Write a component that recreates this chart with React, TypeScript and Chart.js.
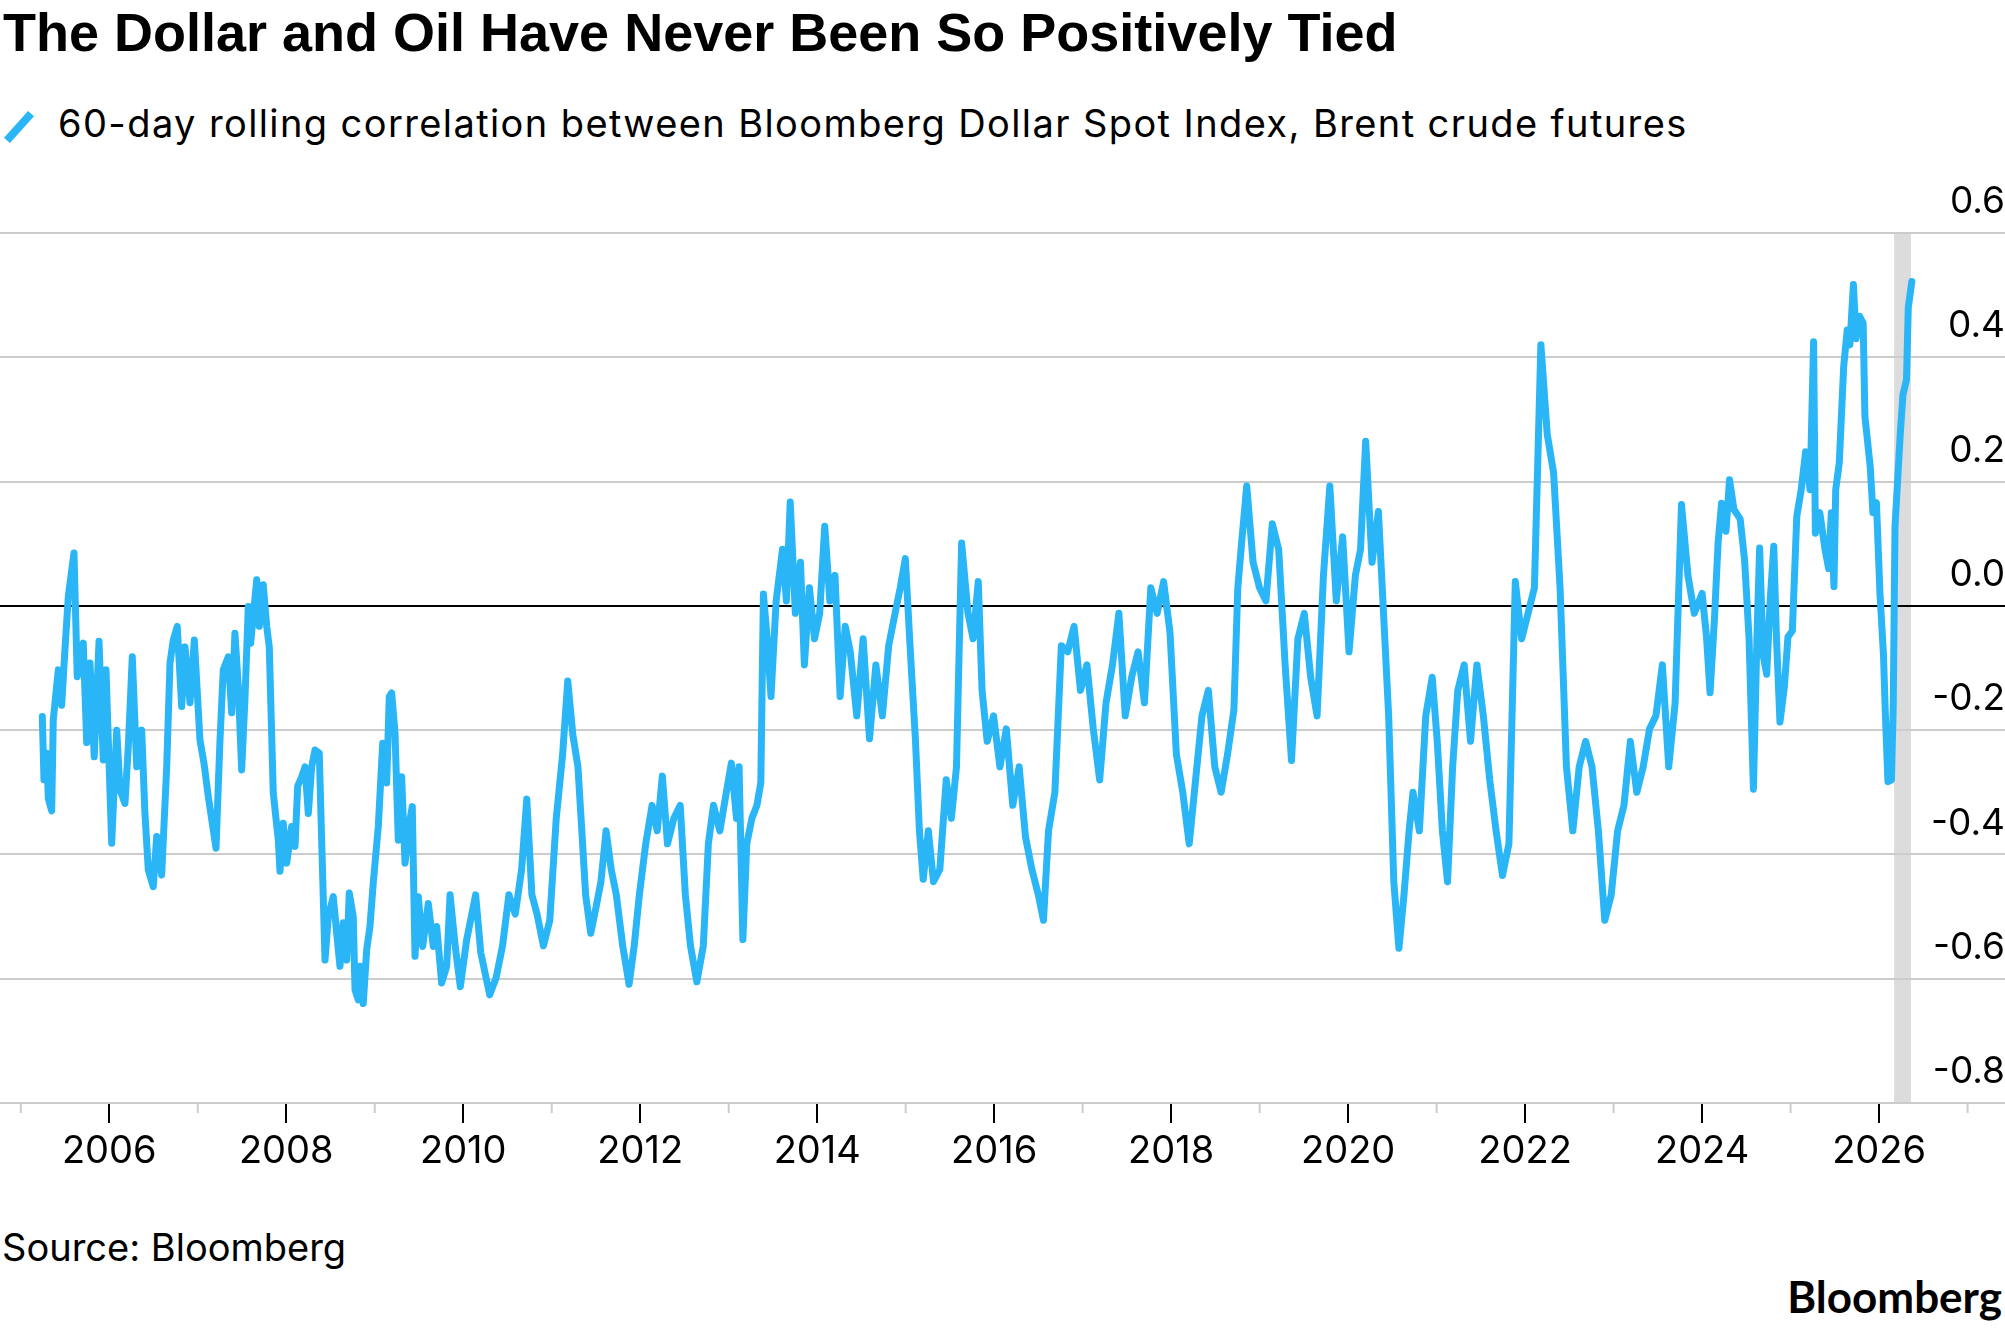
import React, { useEffect, useRef } from 'react';
import { Chart, registerables } from 'chart.js';

Chart.register(...registerables);

// Decimal years of each observation
const years: number[] = [
  2005.243, 2005.262, 2005.293, 2005.311, 2005.349, 2005.367, 2005.424, 2005.462, 2005.499, 2005.537,
  2005.601, 2005.638, 2005.706, 2005.745, 2005.782, 2005.830, 2005.884, 2005.932, 2005.963, 2006.027,
  2006.084, 2006.121, 2006.177, 2006.215, 2006.260, 2006.310, 2006.366, 2006.403, 2006.441, 2006.497,
  2006.536, 2006.592, 2006.649, 2006.686, 2006.723, 2006.768, 2006.818, 2006.855, 2006.912, 2006.961,
  2007.025, 2007.070, 2007.119, 2007.206, 2007.251, 2007.288, 2007.345, 2007.383, 2007.420, 2007.458,
  2007.496, 2007.533, 2007.571, 2007.598, 2007.666, 2007.695, 2007.740, 2007.779, 2007.808, 2007.853,
  2007.910, 2007.929, 2007.966, 2008.005, 2008.061, 2008.099, 2008.129, 2008.174, 2008.212, 2008.249,
  2008.287, 2008.325, 2008.373, 2008.400, 2008.438, 2008.475, 2008.531, 2008.570, 2008.607, 2008.644,
  2008.683, 2008.712, 2008.757, 2008.777, 2008.814, 2008.833, 2008.870, 2008.909, 2008.946, 2008.983,
  2009.040, 2009.090, 2009.135, 2009.164, 2009.191, 2009.229, 2009.266, 2009.304, 2009.342, 2009.398,
  2009.424, 2009.455, 2009.492, 2009.542, 2009.605, 2009.661, 2009.700, 2009.756, 2009.813,
  2009.851, 2009.909, 2009.967, 2010.039, 2010.140, 2010.198, 2010.299, 2010.371, 2010.444, 2010.516,
  2010.588, 2010.660, 2010.718, 2010.776, 2010.834, 2010.906, 2010.978, 2011.051, 2011.123, 2011.181,
  2011.239, 2011.296, 2011.340, 2011.383, 2011.441, 2011.499, 2011.556, 2011.614, 2011.672, 2011.730,
  2011.802, 2011.874, 2011.932, 2011.990, 2012.062, 2012.134, 2012.192, 2012.250, 2012.308, 2012.380,
  2012.452, 2012.510, 2012.568, 2012.640, 2012.713, 2012.770, 2012.828, 2012.900, 2012.973, 2013.030,
  2013.088, 2013.117, 2013.160, 2013.204, 2013.262, 2013.319, 2013.363, 2013.392, 2013.435, 2013.478,
  2013.536, 2013.608, 2013.652, 2013.695, 2013.753, 2013.811, 2013.855, 2013.912, 2013.970, 2014.028,
  2014.085, 2014.143, 2014.201, 2014.259, 2014.317, 2014.374, 2014.447, 2014.519, 2014.591, 2014.663,
  2014.736, 2014.808, 2014.880, 2014.938, 2014.996, 2015.053, 2015.111, 2015.155, 2015.198, 2015.256,
  2015.314, 2015.386, 2015.458, 2015.516, 2015.574, 2015.632, 2015.704, 2015.762, 2015.820, 2015.863,
  2015.921, 2015.993, 2016.065, 2016.137, 2016.210, 2016.282, 2016.354, 2016.426, 2016.499, 2016.557,
  2016.614, 2016.686, 2016.759, 2016.831, 2016.903, 2016.975, 2017.048, 2017.120, 2017.192, 2017.264,
  2017.337, 2017.409, 2017.481, 2017.553, 2017.626, 2017.698, 2017.770, 2017.842, 2017.915, 2017.987,
  2018.059, 2018.131, 2018.204, 2018.276, 2018.348, 2018.420, 2018.493, 2018.565, 2018.637, 2018.709,
  2018.753, 2018.796, 2018.854, 2018.926, 2018.999, 2019.071, 2019.143, 2019.215, 2019.288, 2019.360,
  2019.432, 2019.504, 2019.577, 2019.649, 2019.721, 2019.793, 2019.866, 2019.938, 2020.010, 2020.082,
  2020.140, 2020.198, 2020.270, 2020.342, 2020.400, 2020.458, 2020.516, 2020.574, 2020.631, 2020.689,
  2020.733, 2020.805, 2020.877, 2020.950, 2021.007, 2021.065, 2021.123, 2021.181, 2021.239, 2021.311,
  2021.383, 2021.455, 2021.528, 2021.600, 2021.672, 2021.744, 2021.817, 2021.889, 2021.961, 2022.033,
  2022.105, 2022.178, 2022.250, 2022.322, 2022.395, 2022.467, 2022.539, 2022.611, 2022.684, 2022.756,
  2022.828, 2022.900, 2022.973, 2023.045, 2023.117, 2023.189, 2023.262, 2023.334, 2023.406, 2023.478,
  2023.551, 2023.623, 2023.695, 2023.767, 2023.840, 2023.912,
  2024.00, 2024.05, 2024.09, 2024.14, 2024.18, 2024.22, 2024.27, 2024.31, 2024.36, 2024.43,
  2024.48, 2024.53, 2024.58, 2024.62, 2024.65, 2024.69, 2024.73, 2024.77, 2024.81, 2024.84,
  2024.88, 2024.93, 2024.97, 2025.02, 2025.07, 2025.12, 2025.17, 2025.22, 2025.26, 2025.28,
  2025.33, 2025.39, 2025.43, 2025.46, 2025.49, 2025.51, 2025.55, 2025.60, 2025.64, 2025.67,
  2025.71, 2025.74, 2025.78, 2025.82, 2025.84, 2025.90, 2025.93, 2025.97, 2026.01, 2026.05,
  2026.07, 2026.10, 2026.14, 2026.16, 2026.18, 2026.24, 2026.27, 2026.31, 2026.33, 2026.37,
];

// 60-day rolling correlation, Bloomberg Dollar Spot Index vs Brent crude futures
const correlation: number[] = [
  -0.178, -0.28, -0.237, -0.31, -0.33, -0.183, -0.103, -0.16, -0.07, 0.015,
  0.085, -0.114, -0.06, -0.22, -0.092, -0.243, -0.057, -0.248, -0.103, -0.382,
  -0.2, -0.296, -0.318, -0.226, -0.082, -0.259, -0.2, -0.334, -0.425, -0.452,
  -0.371, -0.433, -0.259, -0.092, -0.055, -0.033, -0.162, -0.066, -0.156, -0.055,
  -0.216, -0.253, -0.307, -0.39, -0.216, -0.103, -0.082, -0.172, -0.044, -0.13,
  -0.264, -0.151, -0.001, -0.06, 0.042, -0.033, 0.034, -0.033, -0.066, -0.301,
  -0.377, -0.427, -0.35, -0.414, -0.355, -0.387, -0.29, -0.275, -0.259, -0.334,
  -0.259, -0.232, -0.237, -0.377, -0.57, -0.5, -0.468, -0.527, -0.58, -0.51,
  -0.57, -0.462, -0.5, -0.618, -0.634, -0.58, -0.64, -0.553, -0.516, -0.446,
  -0.355, -0.221, -0.285, -0.146, -0.14, -0.205, -0.377, -0.275, -0.414, -0.344,
  -0.323, -0.564, -0.468, -0.548, -0.479, -0.548, -0.516, -0.607, -0.58,
  -0.465, -0.547, -0.613, -0.537, -0.465, -0.558, -0.626, -0.599, -0.547, -0.465,
  -0.496, -0.424, -0.311, -0.465, -0.496, -0.547, -0.506, -0.342, -0.239, -0.121,
  -0.208, -0.259, -0.362, -0.465, -0.527, -0.486, -0.444, -0.362, -0.424, -0.465,
  -0.547, -0.609, -0.547, -0.465, -0.383, -0.321, -0.362, -0.274, -0.383, -0.342,
  -0.321, -0.465, -0.547, -0.605, -0.547, -0.383, -0.321, -0.362, -0.300, -0.253,
  -0.342, -0.259, -0.537, -0.383, -0.342, -0.321, -0.284, 0.019, -0.053, -0.146,
  0.008, 0.091, 0.008, 0.167, -0.012, 0.070, -0.095, 0.029, -0.053, -0.012,
  0.128, 0.008, 0.049, -0.146, -0.033, -0.074, -0.177, -0.053, -0.214, -0.095,
  -0.177, -0.064, -0.012, 0.029, 0.076, -0.074, -0.218, -0.362, -0.440, -0.362,
  -0.444, -0.424, -0.280, -0.342, -0.259, 0.101, -0.012, -0.053, 0.039, -0.136,
  -0.218, -0.177, -0.259, -0.198, -0.321, -0.259, -0.372, -0.424, -0.465, -0.506,
  -0.362, -0.300, -0.064, -0.074, -0.033, -0.136, -0.095, -0.198, -0.280, -0.156,
  -0.095, -0.012, -0.177, -0.115, -0.074, -0.156, 0.029, -0.012, 0.039, -0.043,
  -0.239, -0.300, -0.383, -0.280, -0.177, -0.136, -0.259, -0.300, -0.239, -0.167,
  0.029, 0.101, 0.193, 0.070, 0.029, 0.008, 0.132, 0.091, -0.095, -0.249,
  -0.053, -0.012, -0.115, -0.177, 0.049, 0.193, 0.008, 0.111, -0.074, 0.049,
  0.091, 0.265, 0.070, 0.152, -0.012, -0.177, -0.444, -0.551, -0.465, -0.362,
  -0.300, -0.362, -0.177, -0.115, -0.218, -0.362, -0.444, -0.259, -0.136, -0.095,
  -0.218, -0.095, -0.177, -0.280, -0.362, -0.434, -0.383, 0.039, -0.053, -0.012,
  0.029, 0.420, 0.276, 0.214, 0.029, -0.259, -0.362, -0.259, -0.218, -0.259,
  -0.362, -0.506, -0.465, -0.362, -0.321, -0.218, -0.300, -0.259, -0.198, -0.177,
  -0.095, -0.259, -0.156, 0.163, 0.049, -0.012,
  0.02, -0.05, -0.14, -0.02, 0.10, 0.165, 0.12, 0.203, 0.155, 0.14,
  0.074, -0.05, -0.295, -0.05, 0.093, -0.08, -0.11, 0.01, 0.096, -0.05,
  -0.187, -0.13, -0.05, -0.04, 0.144, 0.187, 0.248, 0.187, 0.425, 0.117,
  0.15, 0.09, 0.06, 0.15, 0.031, 0.187, 0.23, 0.385, 0.444, 0.42,
  0.517, 0.43, 0.466, 0.455, 0.305, 0.224, 0.15, 0.166, 0.02, -0.08,
  -0.17, -0.283, -0.28, -0.16, 0.128, 0.278, 0.34, 0.364, 0.48, 0.522,
];

const yTickValues: number[] = [-0.8, -0.6, -0.4, -0.2, 0, 0.2, 0.4, 0.6];
const labeledYears: number[] = [2006, 2008, 2010, 2012, 2014, 2016, 2018, 2020, 2022, 2024, 2026];
const minorYears: number[] = [2005, 2007, 2009, 2011, 2013, 2015, 2017, 2019, 2021, 2023, 2025, 2027];
const highlightBand: number[] = [2026.17, 2026.36];
const xRange: number[] = [2004.765, 2027.423];
const yRange: number[] = [-0.8, 0.6];

const LINE_COLOR = '#2ab6f6';
const GRID_COLOR = '#cccccc';

const bandPlugin = {
  id: 'highlightBand',
  beforeDraw(chart: any) {
    const { ctx, chartArea, scales } = chart;
    const x0 = scales.x.getPixelForValue(highlightBand[0]);
    const x1 = scales.x.getPixelForValue(highlightBand[1]);
    ctx.save();
    ctx.fillStyle = '#dcdcdc';
    ctx.fillRect(x0, chartArea.top, x1 - x0, chartArea.bottom - chartArea.top);
    ctx.restore();
  },
};

const minorTickPlugin = {
  id: 'minorTicks',
  afterDraw(chart: any) {
    const { ctx, chartArea, scales } = chart;
    ctx.save();
    ctx.strokeStyle = GRID_COLOR;
    ctx.lineWidth = 2;
    minorYears.forEach((yr) => {
      const px = scales.x.getPixelForValue(yr);
      if (px < chartArea.left || px > chartArea.right) return;
      ctx.beginPath();
      ctx.moveTo(px, chartArea.bottom);
      ctx.lineTo(px, chartArea.bottom + 10);
      ctx.stroke();
    });
    ctx.restore();
  },
};

function CorrelationChart() {
  const canvasRef = useRef<HTMLCanvasElement | null>(null);

  useEffect(() => {
    if (!canvasRef.current) return;
    const points = years.map((x, i) => ({ x, y: correlation[i] }));
    const chart = new Chart(canvasRef.current, {
      type: 'line',
      data: {
        datasets: [
          {
            data: points,
            borderColor: LINE_COLOR,
            borderWidth: 7,
            pointRadius: 0,
            tension: 0,
            borderJoinStyle: 'round',
            borderCapStyle: 'round',
            fill: false,
          },
        ],
      },
      options: {
        animation: false,
        responsive: false,
        devicePixelRatio: 1,
        layout: { padding: { top: 53, left: 0, right: 0, bottom: 0 } },
        plugins: { legend: { display: false }, tooltip: { enabled: false } },
        scales: {
          x: {
            type: 'linear',
            position: 'bottom',
            min: xRange[0],
            max: xRange[1],
            afterBuildTicks: (scale: any) => {
              scale.ticks = labeledYears.map((v) => ({ value: v }));
            },
            afterFit: (scale: any) => {
              scale.height = 77;
            },
            grid: {
              display: true,
              drawOnChartArea: false,
              drawTicks: true,
              tickLength: 20,
              color: '#000000',
              lineWidth: 2,
            },
            border: { display: true, color: GRID_COLOR, width: 2 },
            ticks: {
              autoSkip: false,
              maxRotation: 0,
              padding: 6,
              color: '#000000',
              font: { family: 'Inter', size: 38 },
              callback: (v: any) => String(Math.round(Number(v))),
            },
          },
          y: {
            type: 'linear',
            position: 'right',
            min: yRange[0],
            max: yRange[1],
            afterBuildTicks: (scale: any) => {
              scale.ticks = yTickValues.map((v) => ({ value: v }));
            },
            afterFit: (scale: any) => {
              scale.width = 0;
            },
            grid: {
              display: true,
              drawTicks: false,
              lineWidth: 2,
              color: (ctx: any) =>
                ctx.tick && Math.abs(ctx.tick.value) < 1e-9 ? '#000000' : GRID_COLOR,
            },
            border: { display: false },
            ticks: {
              mirror: true,
              padding: 0,
              labelOffset: -31,
              color: '#000000',
              font: { family: 'Inter', size: 37 },
              callback: (v: any) => Number(v).toFixed(1),
            },
          },
        },
      },
      plugins: [bandPlugin, minorTickPlugin],
    } as any);
    return () => chart.destroy();
  }, []);

  return (
    <canvas
      ref={canvasRef}
      width={2005}
      height={1000}
      style={{ position: 'absolute', left: 0, top: 180, width: 2005, height: 1000 }}
    />
  );
}

export default function App() {
  return (
    <div
      style={{
        position: 'absolute',
        left: 0,
        top: 0,
        width: 2005,
        height: 1329,
        background: '#ffffff',
        overflow: 'hidden',
        color: '#000',
      }}
    >
      <div
        style={{
          position: 'absolute',
          left: 3,
          top: 5,
          fontFamily: '"Liberation Sans", Arial, sans-serif',
          fontWeight: 700,
          fontSize: 54,
          lineHeight: '54px',
          whiteSpace: 'nowrap',
        }}
      >
        The Dollar and Oil Have Never Been So Positively Tied
      </div>
      <div
        style={{
          position: 'absolute',
          left: 1,
          top: 123,
          width: 36,
          height: 8,
          background: LINE_COLOR,
          transform: 'rotate(-48deg)',
        }}
      />
      <div
        style={{
          position: 'absolute',
          left: 58,
          top: 104,
          fontFamily: 'Inter, sans-serif',
          fontSize: 38,
          lineHeight: '38px',
          letterSpacing: '1.4px',
          whiteSpace: 'nowrap',
        }}
      >
        60-day rolling correlation between Bloomberg Dollar Spot Index, Brent crude futures
      </div>
      <CorrelationChart />
      <div
        style={{
          position: 'absolute',
          left: 2,
          top: 1228,
          fontFamily: 'Inter, sans-serif',
          fontSize: 38,
          lineHeight: '38px',
          whiteSpace: 'nowrap',
        }}
      >
        Source: Bloomberg
      </div>
      <div
        style={{
          position: 'absolute',
          right: 3,
          top: 1274,
          fontFamily: 'Lato, sans-serif',
          fontWeight: 700,
          fontSize: 44,
          lineHeight: '44px',
          whiteSpace: 'nowrap',
        }}
      >
        Bloomberg
      </div>
    </div>
  );
}
